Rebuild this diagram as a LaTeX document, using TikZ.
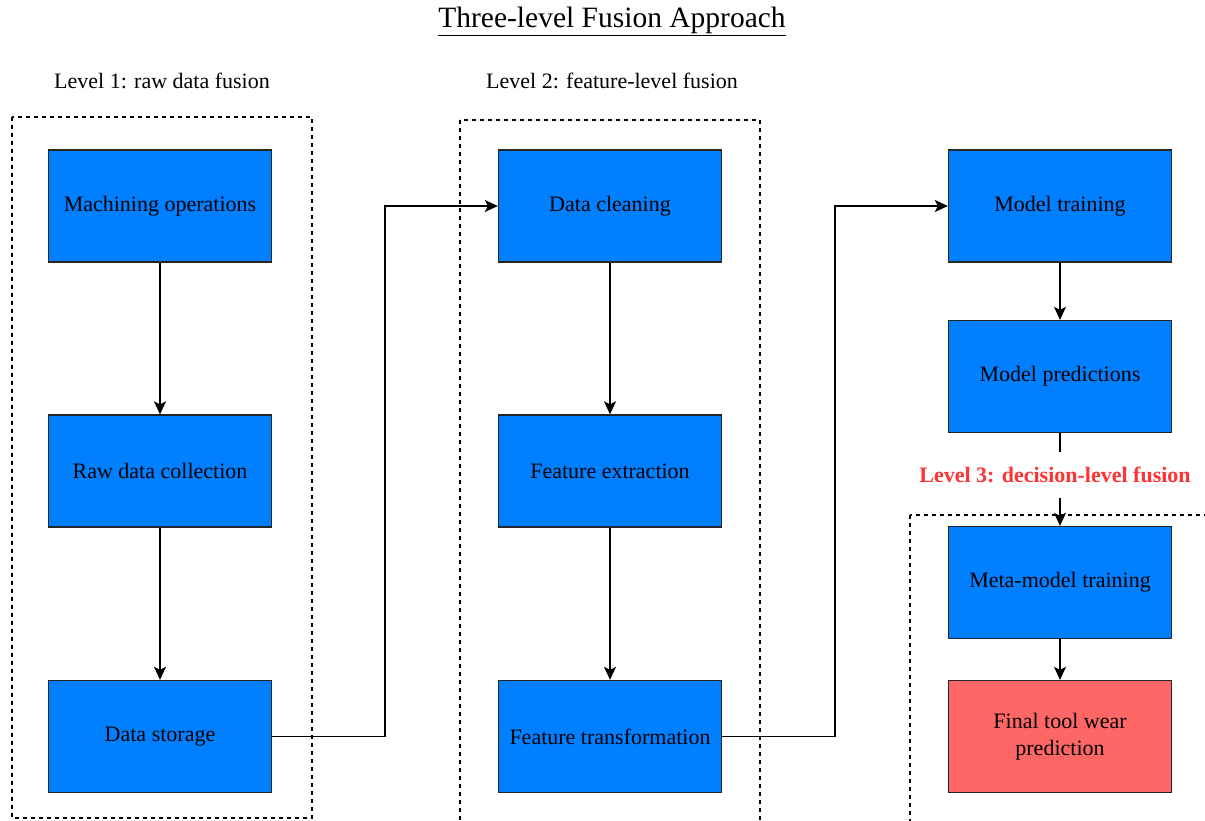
\documentclass[tikz,border=0pt]{standalone}
\usepackage{fontspec}
\setmainfont{Liberation Serif}
\usetikzlibrary{arrows.meta}
\definecolor{procblue}{RGB}{0,127,255}
\definecolor{resultred}{RGB}{255,102,102}
\definecolor{levelred}{RGB}{255,51,51}
\tikzset{
  procbox/.style={draw=black!85, line width=1.3pt, fill=procblue,
    minimum width=223pt, minimum height=112pt, inner sep=2pt,
    align=center, font=\fontsize{22}{27}\selectfont},
  resultbox/.style={procbox, fill=resultred},
  conn/.style={line width=1.5pt, -{Stealth[length=13pt,width=12pt,inset=3pt]}},
  groupframe/.style={line width=1.4pt, dash pattern=on 4pt off 4pt},
  levellabel/.style={font=\fontsize{22}{26}\selectfont},
  decisionlabel/.style={font=\fontsize{22}{26}\selectfont\bfseries,
    text=levelred, fill=white, minimum height=46pt, inner xsep=2pt},
  headline/.style={font=\fontsize{29.5}{34}\selectfont}
}
\begin{document}
\begin{tikzpicture}[x=1pt, y=-1pt]
  \useasboundingbox (0,0) rectangle (1205,821);

  % heading and level captions
  \node[headline] (title) at (612,21) {\underline{Three-level Fusion Approach}};
  \node[levellabel] (lab1) at (162,81) {Level 1: raw data fusion};
  \node[levellabel] (lab2) at (612,81) {Level 2: feature-level fusion};

  % dashed group frames (the open ones run off the page)
  \begin{scope}
    \clip (0,0) rectangle (1205,821);
    \draw[groupframe] (12,117) rectangle (312,818);
    \draw[groupframe] (460,120) rectangle (760,840);
    \draw[groupframe] (910,515) rectangle (1230,840);
  \end{scope}

  % level 1: raw data fusion
  \node[procbox] (mo) at (160,206) {Machining operations};
  \node[procbox] (rd) at (160,471) {Raw data collection};
  \node[procbox] (ds) at (160,736.5) {Data storage};

  % level 2: feature-level fusion
  \node[procbox] (dc) at (610,206) {Data cleaning};
  \node[procbox] (fe) at (610,471) {Feature extraction};
  \node[procbox] (ft) at (610,736.5) {Feature transformation};

  % level 3: decision-level fusion
  \node[procbox] (mt) at (1060,206) {Model training};
  \node[procbox] (mp) at (1060,376.5) {Model predictions};
  \node[procbox] (mm) at (1060,582.5) {Meta-model training};
  \node[resultbox] (fp) at (1060,736.5) {Final tool wear\\prediction};

  % elbow points of the links between the columns
  \coordinate (bend1) at (385,0);
  \coordinate (bend2) at (835,0);

  % flow arrows
  \draw[conn] (mo) -- (rd);
  \draw[conn] (rd) -- (ds);
  \draw[conn] (ds.east) -- (ds.east -| bend1) -- (bend1 |- dc.west) -- (dc.west);
  \draw[conn] (dc) -- (fe);
  \draw[conn] (fe) -- (ft);
  \draw[conn] (ft.east) -- (ft.east -| bend2) -- (bend2 |- mt.west) -- (mt.west);
  \draw[conn] (mt) -- (mp);
  \draw[conn] (mp) -- node[decisionlabel, pos=0.45, xshift=-5pt] (lab3) {Level 3: decision-level fusion} (mm);
  \draw[conn] (mm) -- (fp);
\end{tikzpicture}
\end{document}
